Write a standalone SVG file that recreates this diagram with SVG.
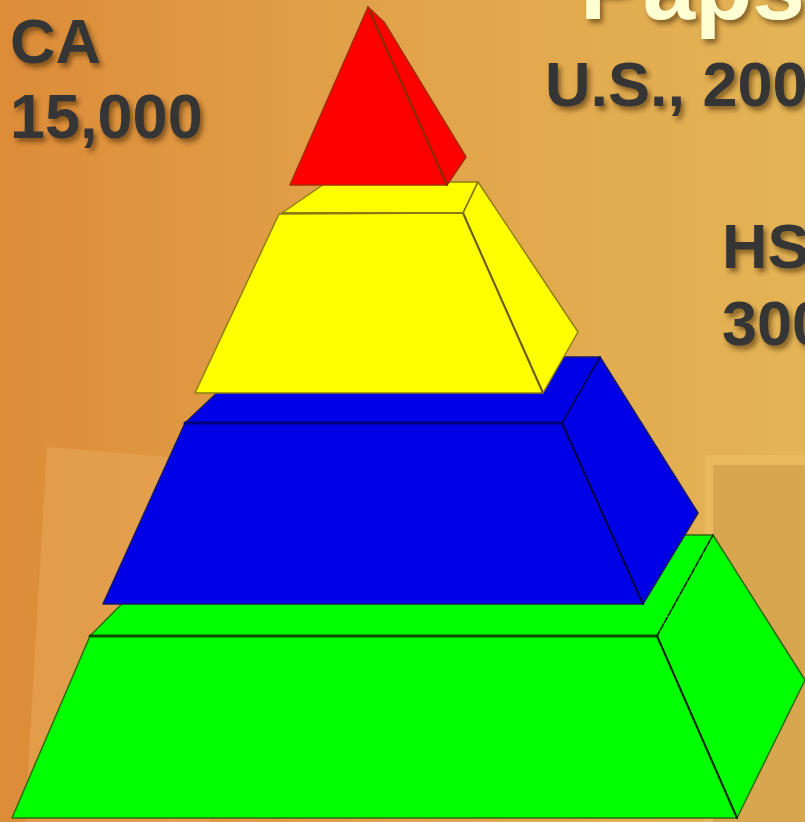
<svg xmlns="http://www.w3.org/2000/svg" width="805" height="822" viewBox="0 0 805 822">
  <defs>
    <linearGradient id="bg" x1="0" y1="0" x2="1" y2="0">
      <stop offset="0" stop-color="#DD8C38"/>
      <stop offset="0.45" stop-color="#E1A24A"/>
      <stop offset="1" stop-color="#E3B455"/>
    </linearGradient>
    <filter id="shadow" x="-10%" y="-20%" width="130%" height="150%">
      <feDropShadow dx="3" dy="4" stdDeviation="2.5" flood-color="#3a2400" flood-opacity="0.55"/>
    </filter>
    <style>
      .lbl { font-family: "Liberation Sans", Arial, sans-serif; font-weight: bold; font-size: 63px; fill: #353535; }
      .title { font-family: "Liberation Sans", Arial, sans-serif; font-weight: bold; font-size: 94px; fill: #FFFFD4; }
      .face { stroke-width: 1.5; stroke-linejoin: round; }
      .red { fill: #FF0000; stroke: #A82A00; }
      .yel { fill: #FFFF00; stroke: #8E7F10; }
      .blu { fill: #0000E6; stroke: #1A1A6A; }
      .grn { fill: #00FF00; stroke: #2E6A10; }
      .edge { fill: none; stroke-linecap: round; }
    </style>
  </defs>

  <g id="background">
    <rect x="0" y="0" width="805" height="822" fill="url(#bg)"/>
    <polygon points="47,447 230,462 210,822 25,822" fill="#E6A857" opacity="0.55"/>
    <rect x="705" y="455" width="100" height="367" fill="#EBBB62" opacity="0.8"/>
    <rect x="713" y="465" width="92" height="357" fill="#D7A64F"/>
  </g>

  <g id="layer-green">
    <polygon class="face grn" points="190,535 713,535 657,636 90,636"/>
    <polygon class="face grn" points="713,535 805,680 737,818 657,636"/>
    <polygon class="face grn" points="90,636 657,636 737,818 12,818"/>
    <line class="edge" x1="90" y1="636" x2="657" y2="636" stroke="#0A4A05" stroke-width="3"/>
    <line class="edge" x1="657" y1="636" x2="737" y2="818" stroke="#062A00" stroke-width="2"/>
    <line class="edge" x1="657" y1="636" x2="713" y2="535" stroke="#062A00" stroke-width="1.5" stroke-dasharray="5,3"/>
  </g>

  <g id="layer-blue">
    <polygon class="face blu" points="255,357 600,357 562,423 185,423"/>
    <polygon class="face blu" points="600,357 698,513 643,604 562,423"/>
    <polygon class="face blu" points="185,423 562,423 643,604 103,604"/>
    <line class="edge" x1="185" y1="423" x2="562" y2="423" stroke="#00007A" stroke-width="3"/>
    <line class="edge" x1="562" y1="423" x2="643" y2="604" stroke="#00004A" stroke-width="2"/>
    <line class="edge" x1="562" y1="423" x2="600" y2="357" stroke="#00004A" stroke-width="1.5"/>
  </g>

  <g id="layer-yellow">
    <polygon class="face yel" points="327,182 478,182 463,213 282,213"/>
    <polygon class="face yel" points="478,182 578,332 543,393 463,213"/>
    <polygon class="face yel" points="279,214 463,213 543,393 195,393"/>
    <line class="edge" x1="282" y1="213" x2="463" y2="213" stroke="#8A7A10" stroke-width="2"/>
    <line class="edge" x1="463" y1="213" x2="543" y2="393" stroke="#6E5E10" stroke-width="2"/>
    <line class="edge" x1="463" y1="213" x2="478" y2="182" stroke="#8A7A10" stroke-width="1.5"/>
  </g>

  <g id="layer-red">
    <polygon class="face red" points="368,7 384,22 466,157 447,185"/>
    <polygon class="face red" points="368,7 447,185 290,185"/>
    <line class="edge" x1="370" y1="12" x2="447" y2="185" stroke="#8A2A00" stroke-width="2"/>
  </g>

  <g id="title" filter="url(#shadow)">
    <text class="title" x="580" y="19">Paps</text>
  </g>
  <g id="subtitle" filter="url(#shadow)">
    <text class="lbl" x="545" y="106">U.S., 200</text>
  </g>
  <g id="label-ca" filter="url(#shadow)">
    <text class="lbl" x="10" y="63">CA</text>
    <text class="lbl" x="10" y="138">15,000</text>
  </g>
  <g id="label-hs" filter="url(#shadow)">
    <text class="lbl" x="722" y="268">HS</text>
    <text class="lbl" x="722" y="345">300</text>
  </g>
</svg>
